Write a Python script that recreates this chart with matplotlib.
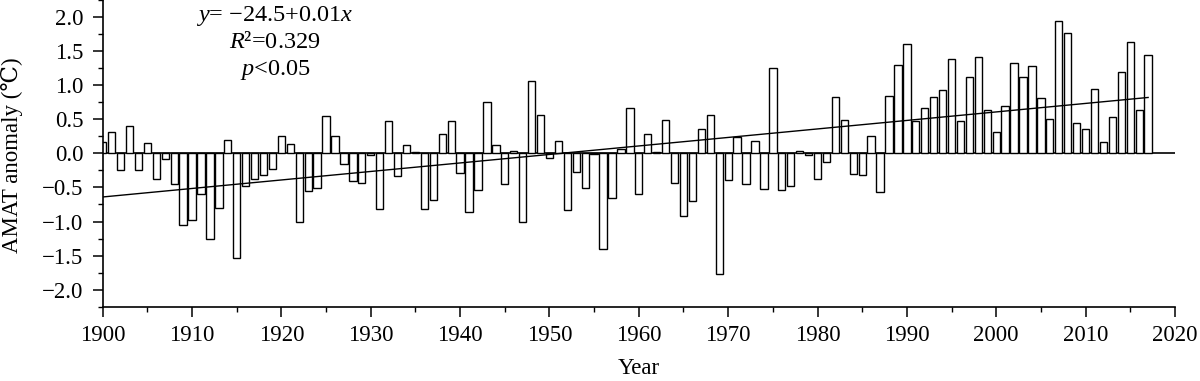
import numpy as np
import matplotlib
matplotlib.use("Agg")
import matplotlib.pyplot as plt
import matplotlib.ticker as ticker

years = np.arange(1900, 2018)

# AMAT anomaly (degC), one per year 1900-2017
anomaly = [
    0.17, 0.31, -0.24, 0.40, -0.25, 0.15, -0.37, -0.08, -0.45, -1.05,   # 1900s
    -0.98, -0.59, -1.26, -0.80, 0.20, -1.53, -0.48, -0.38, -0.32, -0.23,  # 1910s
    0.26, 0.14, -1.00, -0.55, -0.51, 0.55, 0.26, -0.15, -0.41, -0.44,     # 1920s
    -0.02, -0.82, 0.48, -0.33, 0.12, 0.02, -0.81, -0.69, 0.28, 0.47,      # 1930s
    -0.29, -0.86, -0.54, 0.76, 0.12, -0.45, 0.03, -1.00, 1.06, 0.57,      # 1940s
    -0.07, 0.18, -0.83, -0.27, -0.51, -0.01, -1.41, -0.66, 0.06, 0.67,    # 1950s
    -0.59, 0.29, 0.02, 0.49, -0.43, -0.92, -0.70, 0.35, 0.56, -1.77,      # 1960s
    -0.39, 0.24, -0.45, 0.18, -0.53, 1.25, -0.54, -0.48, 0.03, -0.02,     # 1970s
    -0.37, -0.12, 0.83, 0.49, -0.30, -0.32, 0.26, -0.57, 0.84, 1.29,      # 1980s
    1.61, 0.48, 0.66, 0.83, 0.93, 1.38, 0.48, 1.12, 1.41, 0.64,           # 1990s
    0.32, 0.70, 1.33, 1.12, 1.28, 0.81, 0.51, 1.94, 1.76, 0.44,           # 2000s
    0.36, 0.94, 0.17, 0.54, 1.20, 1.63, 0.64, 1.45,                       # 2010s
]

# trend line as drawn in the reference (ends at 1900 and 2017)
trend_years = [1900, 2017]
trend_vals = [-0.64, 0.82]

plt.rcParams["font.family"] = ["Liberation Serif", "DejaVu Serif"]
plt.rcParams["mathtext.fontset"] = "custom"
plt.rcParams["mathtext.rm"] = "Liberation Serif"
plt.rcParams["mathtext.it"] = "Liberation Serif:italic"
plt.rcParams["font.size"] = 16.5

fig = plt.figure(figsize=(12, 3.81), dpi=100)
ax = fig.add_axes([0.0856, 0.195, 0.8935, 0.805])

ax.axhline(0, color="black", linewidth=1.2, zorder=1)
ax.bar(years, anomaly, width=0.82, facecolor="white", edgecolor="black",
       linewidth=1.0, zorder=2)
ax.plot(trend_years, trend_vals, color="black", linewidth=1.0, zorder=3)

ax.set_xlim(1900, 2020)
ax.set_ylim(-2.25, 2.25)

ax.xaxis.set_major_locator(ticker.MultipleLocator(10))
ax.xaxis.set_minor_locator(ticker.MultipleLocator(5))
ax.yaxis.set_major_locator(ticker.MultipleLocator(0.5))
ax.yaxis.set_minor_locator(ticker.MultipleLocator(0.25))
ax.yaxis.set_major_formatter(ticker.FuncFormatter(
    lambda v, _: f"{v:.1f}".replace("-", "\u2212")))

ax.tick_params(which="major", direction="out", length=7, width=1.1)
ax.tick_params(which="minor", direction="out", length=3.5, width=1.0)
ax.tick_params(axis="x", which="major", pad=6)
ax.tick_params(axis="y", which="major", pad=7)

for side in ["top", "right"]:
    ax.spines[side].set_visible(False)
for side in ["left", "bottom"]:
    ax.spines[side].set_linewidth(1.2)

ax.set_xlabel("Year")
ax.set_ylabel("AMAT anomaly (\u2103)")
ax.xaxis.set_label_coords(0.5, -0.167)
ax.yaxis.set_label_coords(-0.0745, 0.495)

ax.text(1919.3, 2.01, "$y$= \u221224.5+0.01$x$", ha="center", va="center",
        fontsize=17.5)
ax.text(1919.3, 1.62, "$R$\u00b2=0.329", ha="center", va="center",
        fontsize=17.5)
ax.text(1919.3, 1.22, "$p$<0.05", ha="center", va="center", fontsize=17.5)

plt.savefig("out.png", dpi=100)
